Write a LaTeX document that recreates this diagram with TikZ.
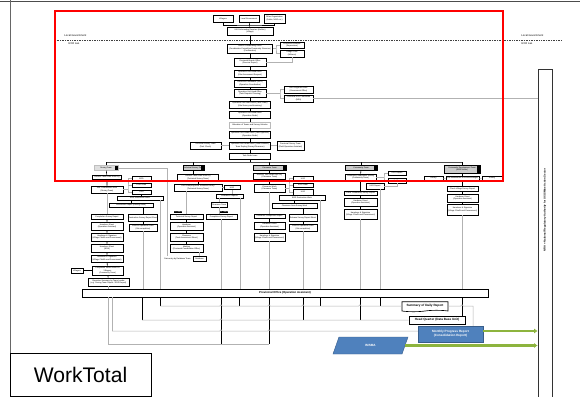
\documentclass[tikz,border=0pt]{standalone}
\usepackage{fontspec}
\setmainfont{Liberation Sans}
\usetikzlibrary{arrows.meta,shapes.geometric,shapes.symbols,positioning}
\definecolor{leaf}{RGB}{141,180,62}
\definecolor{mpr}{RGB}{79,129,189}
\definecolor{mprd}{RGB}{56,93,138}
\newcommand{\tnf}{\fontsize{2.8}{3.2}\selectfont}
\newcommand{\mdf}{\fontsize{4.4}{5.4}\selectfont\bfseries}
\tikzstyle{bx}=[draw, fill=white, line width=0.9pt, inner sep=0.2pt, align=center, font=\tnf]
\tikzstyle{gbx}=[bx, draw=gray!55]
\tikzstyle{hdr}=[draw, line width=0.9pt, fill=gray!40, inner sep=0.2pt, align=center, font=\tnf,
               path picture={\fill[black] ([xshift=-4pt]path picture bounding box.north east) rectangle (path picture bounding box.south east);}]
\tikzstyle{tag}=[fill=black, text=white, inner sep=0.3pt, font=\tnf]
\tikzstyle{gln}=[draw=gray!60, line width=0.7pt]
\tikzstyle{bln}=[draw=black, line width=0.8pt]
\tikzstyle{okarr}=[draw=leaf, line width=3.5pt, -{Latex[length=5pt,width=7pt]}]
\tikzstyle{side}=[font=\fontsize{3.8}{4.4}\selectfont, anchor=west]
\tikzset{wh/.style 2 args={minimum width=#1*0.05cm, minimum height=#2*0.05cm}}

\begin{document}
\begin{tikzpicture}[x=0.05cm, y=-0.05cm]
  \useasboundingbox (0,0) rectangle (580,396);
  \draw[black!70, line width=2pt] (0,1.5) -- (580,1.5);
  \draw[black!60, line width=0.6pt] (10,0) -- (10,396);

  % who reports
  \node[bx, wh={20}{7}] (vil) at (223,18.5) {Villagers};
  \node[bx, wh={20}{7}] (lgv) at (249,18.5) {Local Government};
  \node[bx, wh={21}{9}] (oth) at (274.5,18.5) {Other Organization\\(Public, NGO etc.)};
  \node[bx, wh={46}{8}] (rec) at (250,31) {UXO Information Receiver (Hotline)\\(Village)};
  \coordinate (jn) at (250,25);
  \draw[bln] (vil.south) |- (jn) -| (oth.south);
  \draw[bln] (lgv) -- (rec);

  % border of local government / UXO Lao
  \coordinate (dl) at (55,40);
  \coordinate (dr) at (562,40);
  \draw[gray!50!black, line width=1.4pt, densely dotted] (dl) -- (dr);
  \node[side] (lgl) at (62,36) {Local Government};
  \node[side] (uxl) at (66,44) {UXO Lao};
  \node[side] (lgr) at (519,36) {Local Government};
  \node[side] (uxr) at (519,44) {UXO Lao};

  % main spine
  \node[bx, wh={45}{9}] (dis) at (250,48.5) {District Coordinating Office\\(Coordination Committee/Community Governor)\\(Confirmation)};
  \node[bx, wh={24}{6}] (rb1) at (292,45) {Provincial Governor\\(Supervision)};
  \node[bx, wh={24}{7}] (rb2) at (292,53.5) {Village Chief\\(Witness)};
  \node[bx, wh={32}{8}] (d1) at (250,62) {Provincial Branch Office\\(Receive Report)};
  \node[bx, wh={32}{7}] (d2) at (250,73.5) {Operation Unit Head Office\\(Site Assessment Request)};
  \node[bx, wh={32}{7}] (d3) at (250,83.5) {Provincial Coordinator (UXO)\\(Operation Coordination)};
  \node[bx, wh={32}{8}] (d4) at (250,93) {Operation Unit Head Office\\(Task Dispatch Planning)};
  \node[bx, wh={29}{7}] (rb3) at (298.5,89.5) {NRA Regional Office\\(Government Office)};
  \node[bx, wh={29}{7}] (rb4) at (298.5,98.5) {Provincial UXO Committee\\(NRA)};
  \node[bx, wh={41}{7}] (d5) at (250,104.5) {Operation Unit Head Office (Task Order)\\(Site Survey and Inventory)};
  \node[bx, wh={41}{7}] (d6) at (250,114.5) {Operation Unit Head Office\\(Operation Order)};
  \node[gbx, wh={41}{6}] (d7) at (250,125) {Allocation of Teams and Survey Vehicles};
  \node[bx, wh={41}{7}] (d8) at (250,134.5) {Operation Unit Head Office (Task Approval)\\(Operation Order)};
  \node[bx, wh={41}{7}] (d9) at (250,145.5) {Operation Unit Head Office (Team Leaders)\\Team Deploy (Survey/Clearance)};
  \node[bx, wh={31}{7}] (l9) at (205.5,145.5) {Technical Survey Team\\(Task Check)};
  \node[bx, wh={27}{9}] (r9) at (290.5,145.5) {Provincial Survey Team\\(Field Operation Assistant)};
  \node[bx, wh={41}{6}] (d10) at (250,156) {Task Order Issue};

  \draw[bln] (rec) -- (dis) -- (d1) -- (d2) -- (d3) -- (d4) -- (d5) -- (d6) -- (d7) -- (d8) -- (d9) -- (d10);
  \coordinate (bk1) at (276,48.5);
  \draw[gln] (dis.east) -- (bk1);
  \draw[gln] (rb1.west) -| (bk1) |- (rb2.west);
  \draw[gln] (d1.east) -| (rb2.south);
  \coordinate (bk2) at (280,93);
  \draw[gln] (d4.east) -- (bk2);
  \draw[gln] (rb3.west) -| (bk2) |- (rb4.west);
  \draw[gln] (l9) -- (d9) -- (r9);

  % NRA side bar
  \node[draw=black!80, line width=0.9pt, fill=white, wh={14}{331}] (nra) at (545,234.5) {};
  \node[rotate=90, font=\fontsize{3.8}{4.4}\selectfont\bfseries] (nratx) at (545,210) {NRA = National Regulatory Authority for UXO/Mine Action Sector};
  \draw[gln] (rb4.east) -- (rb4.east -| nra.west);

  % team headers
  \node[hdr, draw=gray!50, fill=gray!25, wh={24}{4.5}] (h1) at (106,168) {Roving Team};
  \node[hdr, wh={21}{4.5}] (h2) at (193.5,168) {Technical Survey Team};
  \node[hdr, wh={33}{4.5}] (h3) at (269.5,168) {Clearance Team};
  \node[hdr, wh={32}{5}] (h4) at (361,167.5) {Community Team};
  \node[hdr, wh={36}{8}] (h5) at (462,169) {Community Development Team\\(MRE/Victim)};
  \coordinate (hl) at (250,162);
  \draw[bln] (d10) -- (hl);
  \draw[draw=gray!60!black, line width=1.3pt] (h1.north |- hl) -- (h5.north |- hl);
  \foreach \h in {h1,h2,h3,h4,h5}
    \draw[bln] (\h.north) -- (\h.north |- hl);

  % roving team
  \node[bx, wh={29}{4}] (c1a) at (107,177) {Receive Task Order from HQ};
  \node[bx, wh={32}{7}] (c1b) at (107,189.5) {Site Confirmation Work\\(Roving Team)};
  \node[bx, wh={19}{3.5}] (c1r1) at (141.5,178.5) {EOD};
  \node[bx, wh={19}{4}] (c1r2) at (141.5,185) {EOD Team};
  \node[bx, wh={19}{4}] (c1r3) at (141.5,192) {UXO};
  \node[bx, wh={46}{4}] (c1c) at (140,198) {EOD Destruction Work};
  \node[bx, wh={44}{4}] (c1d) at (131,205) {Destruction Report (Roving Team)};
  \node[bx, wh={32}{5}] (b1) at (107,216.5) {Completion Survey Report};
  \node[bx, wh={32}{8}] (b2) at (107,226) {Handover Sheet\\(Operation Assistant)};
  \node[bx, wh={32}{8}] (b3) at (107,237) {Handover \& Signature\\(Village Chief/Local Government)};
  \node[bx, wh={32}{8}] (b4) at (107,248) {Handover Sheet\\(NRA)};
  \node[bx, wh={32}{7}] (b5) at (107,258.5) {Handover \& Signature\\(Village Chief/Local Government)};
  \node[bx, wh={31}{9}] (b6) at (107.5,270.5) {Completion Sheet Return to\\Villagers\\(Community Team)};
  \node[bx, wh={12}{5}] (sl) at (77,270.5) {Villagers};
  \node[bx, wh={41}{8}] (b7) at (108.5,282) {Operation Summary by Team Leader\\(e.g. Roving Team Report / EOD Report)};
  \node[bx, wh={28}{7}] (s1) at (143,217.5) {Destruction Survey Report Sheet};
  \node[bx, wh={28}{7}] (s2) at (143,227.5) {Send to Operation Office\\(Site completion)};
  \draw[bln] (h1) -- (c1a) -- (c1b);
  \coordinate (bk3) at (128,189.5);
  \draw[gln] (c1b.east) -- (bk3);
  \draw[gln] (c1r1.west) -| (bk3) |- (c1r3.west);
  \draw[gln] (c1r2.west) -- (c1r2.west -| bk3);
  \draw[bln] (c1r3.south) -- (c1r3.south |- c1c.north);
  \draw[bln] (c1d.north) -- (c1d.north |- c1c.south);
  \draw[bln] (s1.north) -- (s1.north |- c1d.south);
  \draw[gln] (c1b) -- (b1);
  \draw[bln] (b1) -- (b2) -- (b3) -- (b4) -- (b5) -- (b6) -- (b7);
  \draw[bln] (sl) -- (b6);
  \draw[bln] (s1) -- (s2);

  % technical survey team
  \node[bx, wh={41}{7}] (c2a) at (198,177.5) {Receive Task Order from HQ\\(Technical Survey Team)};
  \node[bx, wh={48}{7}] (c2b) at (198,187.5) {UXO Sampling Area Technical Survey\\(Technical Survey Team)};
  \node[bx, wh={16}{4}] (c2r) at (232,187.5) {UXO};
  \node[bx, wh={27}{4}] (c2c) at (229.5,196) {Clearance Request};
  \node[bx, wh={16}{5}] (c2d) at (219,204.5) {Clearance Team};
  \node[tag] (tA) at (178,212) {TS Team};
  \node[tag] (tB) at (224,212) {CL Team};
  \node[bx, wh={33}{5}] (a1) at (186.5,216.5) {Technical Survey Report};
  \node[bx, wh={33}{8}] (a2) at (186.5,226) {Handover\\(Operation Assistant)};
  \node[bx, wh={33}{8}] (a3) at (186.5,237) {Clearance\\(Task Assessment Sheet)};
  \node[bx, wh={33}{8}] (a4) at (186.5,248) {Marking\\(Provincial Coordination Office)};
  \node[bx, wh={31}{5}] (bb1) at (221.5,216.5) {Completion Survey Report};
  \node[font=\tnf, anchor=east] (dtxt) at (193,259) {Data entry by Database Team};
  \node[bx, wh={13}{4.5}] (dbx) at (199.5,259) {Database};
  \coordinate (dent) at (167,256);
  \draw[gln] (h1.east) -| (dent);
  \draw[bln] (h2.south) -- (h2.south |- c2a.north);
  \draw[bln] (c2a) -- (c2b);
  \draw[gln] (c2b) -- (c2r);
  \draw[gln] (a1.north |- c2b.south) -- (a1.north);
  \draw[bln] (a1) -- (a2) -- (a3) -- (a4);
  \draw[gln] (dbx.north |- a4.south) -- (dbx.north);
  \draw[gln] (c2r.south) -- (c2r.south |- c2c.north);
  \draw[gln] (c2d.north) -- (c2d.north |- c2c.south);
  \draw[gln] (c2d.south) -- (c2d.south |- bb1.north);

  % clearance team
  \node[bx, wh={32}{6}] (c3a) at (269.5,176) {Receive Task Order from HQ\\(Clearance Team)};
  \node[bx, wh={31}{8}] (c3b) at (269.5,188) {Clearance Work\\(Clearance Team)};
  \node[bx, wh={20}{5}] (c3r1) at (303,178.5) {UXO};
  \node[bx, wh={20}{4}] (c3r2) at (303,185) {EOD Team};
  \node[bx, wh={20}{6}] (c3r3) at (303,192) {UXO};
  \node[bx, wh={46}{5}] (c3c) at (302,197.5) {EOD Destruction Work};
  \node[bx, wh={45}{5}] (c3d) at (294.5,205.5) {Clearance Area Survey Work};
  \node[bx, wh={31}{4}] (e1) at (269.5,216) {Clearance Completion Report};
  \node[bx, wh={31}{7}] (e2) at (269.5,225.5) {Handover Sheet\\(Operation Assistant)};
  \node[bx, wh={31}{8}] (e3) at (269.5,237) {Handover \& Signature\\(Village Chief/Local Government)};
  \node[bx, wh={28}{7}] (f1) at (303,217.5) {Release Survey Report Sheet};
  \node[bx, wh={28}{7}] (f2) at (303,227.5) {Send to Operation Office\\(Site completion)};
  \draw[bln] (h3) -- (c3a) -- (c3b);
  \coordinate (bk4) at (289,188);
  \draw[gln] (c3b.east) -- (bk4);
  \draw[gln] (c3r1.west) -| (bk4) |- (c3r3.west);
  \draw[gln] (c3r2.west) -- (c3r2.west -| bk4);
  \draw[bln] (c3r3.south) -- (c3r3.south |- c3c.north);
  \draw[bln] (c3d.north) -- (c3d.north |- c3c.south);
  \draw[bln] (f1.north) -- (f1.north |- c3d.south);
  \draw[gln] (c3b) -- (e1);
  \draw[bln] (e1) -- (e2) -- (e3);
  \draw[bln] (f1) -- (f2);

  % community team
  \node[bx, wh={31}{6}] (c4a) at (360.5,177) {Community Awareness Activity\\(Community Team)};
  \node[bx, wh={18}{4}] (c4r1) at (397,173) {UXO Report};
  \node[bx, wh={18}{5}] (c4r2) at (397,180.5) {Hotline};
  \node[bx, wh={18}{6}] (c4s) at (375,186) {UXO Report};
  \node[bx, wh={33}{4}] (c4b) at (360.5,193) {Check Community Survey Report};
  \node[bx, wh={33}{8}] (c4c) at (360.5,202) {Handover Sheet\\(Operation Assistant)};
  \node[bx, wh={33}{10}] (c4d) at (360.5,214) {Handover \& Signature\\(Village Chief/Local Government)};
  \draw[bln] (h4) -- (c4a);
  \coordinate (bk5) at (384,177);
  \draw[gln] (c4a.east) -- (bk5);
  \draw[gln] (c4r1.west) -| (bk5) |- (c4r2.west);
  \draw[gln] (c4s.east) -| (c4r2.south);
  \draw[bln] (c4a) -- (c4b) -- (c4c) -- (c4d);

  % community development team
  \node[bx, wh={19}{3.5}] (c5l) at (433.5,178.5) {Survey};
  \node[bx, wh={33}{4}] (c5a) at (462.5,178) {Pre-Assessment of Victims/Villages};
  \node[bx, wh={20}{3.5}] (c5r) at (492,178.5) {Survey};
  \node[bx, wh={31}{5}] (c5b) at (462.5,188.5) {Check Village Survey Report};
  \node[bx, wh={31}{8}] (c5c) at (462.5,198) {Handover Sheet\\(Operation Assistant)};
  \node[bx, wh={31}{11}] (c5d) at (462.5,209.5) {Handover \& Signature\\(Village Chief/Local Government)};
  \draw[bln] (h5.south) -- (h5.south |- c5a.north);
  \draw[gln] (c5l) -- (c5a) -- (c5r);
  \draw[bln] (c5a) -- (c5b) -- (c5c) -- (c5d);

  % provincial office
  \node[bx, wh={406}{8}, font=\fontsize{4}{5}\selectfont\bfseries] (pov) at (285,293) {Provincial Office (Operation Assistant)};
  \draw[gln] (b7) -- (b7 |- pov.north);
  \draw[gln] (s2) -- (s2 |- pov.north);
  \draw[gln] (160,0 |- c1c.south) -- (160,0 |- pov.north);
  \draw[gln] (bb1) -- (bb1 |- pov.north);
  \draw[gln] (240,0 |- c2c.south) -- (240,0 |- pov.north);
  \draw[gln] (e3) -- (e3 |- pov.north);
  \draw[gln] (f2) -- (f2 |- pov.north);
  \draw[gln] (320,0 |- c3c.south) -- (320,0 |- pov.north);
  \draw[gln] (c4d) -- (c4d |- pov.north);
  \draw[gln] (380,0 |- c4s.south) -- (380,0 |- pov.north);
  \draw[gln] (c5d) -- (c5d |- pov.north);

  % reporting
  \node[draw, fill=white, line width=0.9pt, tape, tape bend top=none, tape bend height=2pt, inner sep=0.2pt,
        wh={46}{10}, font=\mdf] (smr) at (425,306) {Summary of Daily Report};
  \node[bx, wh={56}{8}, font=\mdf] (hq) at (437,320) {Head Quarter (Data Base Unit)};
  \node[draw=mprd, fill=mpr, line width=0.6pt, text=white, align=center, wh={65}{16}, font=\mdf] (mpr) at (450.5,334) {Monthly Progress Report\\(Consolidation Report)};
  \node[trapezium, trapezium left angle=49, trapezium right angle=131, trapezium stretches body,
        draw=mprd, fill=mpr, line width=0.6pt, text=white, wh={75}{17}, font=\mdf] (imsma) at (370.5,345.5) {IMSMA};

  \coordinate (ra) at (0,306);
  \coordinate (rb) at (0,320);
  \coordinate (rc) at (0,331);
  \coordinate (rd) at (0,344);
  \draw[gln] (108,0 |- pov.south) -- (108,0 |- rd);
  \draw[gln] (112,0 |- pov.south) -- (112,0 |- rc);
  \draw[bln] (142,0 |- pov.south) -- (142,0 |- rb);
  \draw[bln] (160,0 |- pov.south) -- (160,0 |- ra);
  \draw[bln, line width=1.2pt] (221,0 |- pov.south) -- (221,0 |- rd);
  \draw[bln] (239,0 |- pov.south) -- (239,0 |- ra);
  \draw[bln, line width=1.2pt] (269,0 |- pov.south) -- (269,0 |- rd);
  \draw[bln] (303,0 |- pov.south) -- (303,0 |- rb);
  \draw[bln] (320,0 |- pov.south) -- (320,0 |- ra);
  \draw[bln] (360,0 |- pov.south) -- (360,0 |- rb);
  \draw[bln] (380,0 |- pov.south) -- (380,0 |- ra);
  \draw[bln] (462,0 |- pov.south) -- (462,0 |- hq.north);

  \draw[gln] (160,0 |- ra) -- (219.73,0 |- ra) arc[start angle=180,end angle=0,radius=1.8pt]
    -- (267.73,0 |- ra) arc[start angle=180,end angle=0,radius=1.8pt]
    -- (301.73,0 |- ra) arc[start angle=180,end angle=0,radius=1.8pt]
    -- (358.73,0 |- ra) arc[start angle=180,end angle=0,radius=1.8pt]
    -- (smr.west |- ra);
  \draw[gln] (142,0 |- rb) -- (219.73,0 |- rb) arc[start angle=180,end angle=0,radius=1.8pt]
    -- (267.73,0 |- rb) arc[start angle=180,end angle=0,radius=1.8pt]
    -- (hq.west |- rb);
  \draw[gln] (112,0 |- rc) -- (219.73,0 |- rc) arc[start angle=180,end angle=0,radius=1.8pt]
    -- (267.73,0 |- rc) arc[start angle=180,end angle=0,radius=1.8pt]
    -- (mpr.west |- rc);
  \draw[gln] (108,0 |- rd) -- (269,0 |- rd);
  \draw[gln] (smr.east) -- (460.73,0 |- smr.east) arc[start angle=180,end angle=0,radius=1.8pt]
    -- (smr.east -| 473,0) -- (473,0 |- mpr.north);

  \draw[okarr] (mpr.east |- rc) -- (nra.west |- rc);
  \draw[okarr] (imsma.east) -- (imsma.east -| nra.west);

  % sheet name
  \node[draw, line width=0.8pt, fill=white, wh={141}{43}, font=\fontsize{30}{32}\selectfont] (wt) at (80.5,374.5) {WorkTotal};

  % highlight
  \draw[red, line width=4pt] (55,11) rectangle (503,181);
\end{tikzpicture}
\end{document}
